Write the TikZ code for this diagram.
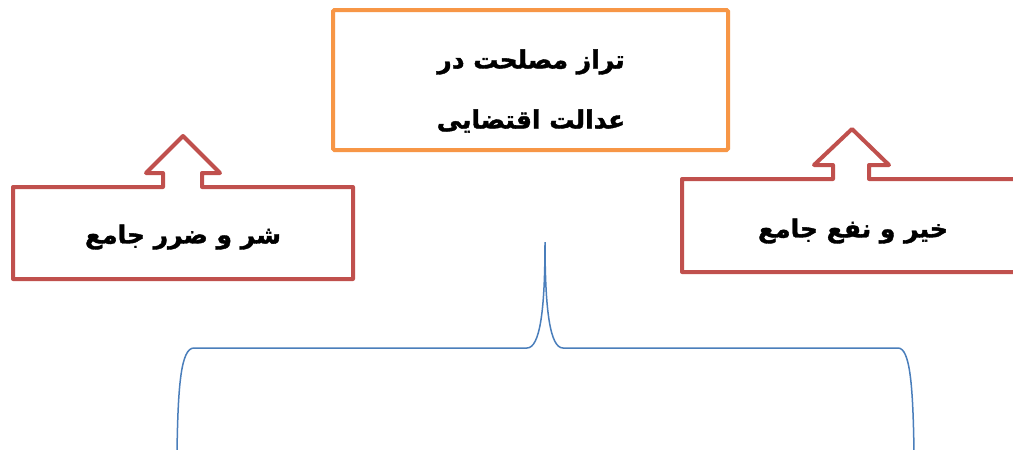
\documentclass[tikz,border=0pt]{standalone}
\usepackage{fontspec}
\TeXXeTstate=1
\newfontfamily\arabicfont[Script=Arabic, BoldFeatures={FakeBold=1.5}]{DejaVu Sans}
\definecolor{boxorange}{HTML}{F79646}
\definecolor{boxred}{HTML}{C0504D}
\definecolor{braceblue}{HTML}{4A7EBB}
\begin{document}
\begin{tikzpicture}[x=1pt,y=-1pt,
  topbox/.style={draw=boxorange, line width=4pt, rounded corners=1.5pt, minimum width=395pt, minimum height=140pt},
  toptxt/.style={align=center, inner sep=0pt, font=\arabicfont\bfseries\fontsize{25}{60}\selectfont},
  arrowbox/.style={draw=boxred, line width=4pt, line join=round},
  lbl/.style={font=\arabicfont\bfseries\fontsize{25}{30}\selectfont, inner sep=0pt},
  brace/.style={draw=braceblue, line width=1.5pt}]
\useasboundingbox (0,0) rectangle (1013,450);
\clip (0,0) rectangle (1013,450);
\fill[white] (0,0) rectangle (1013,450);
% top box
\node[topbox] (top) at (530.5,80) {};
\node[toptxt] (toptext) at (531,91) {\beginR تراز مصلحت در\endR\\\beginR عدالت اقتضایی\endR};
% left box with up arrow
\draw[arrowbox] (13,279) -- (13,187) -- (163,187) -- (163,173) -- (146,173) -- (183,136) -- (220,173) -- (202,173) -- (202,187) -- (353,187) -- (353,279) -- cycle;
\node[lbl] (left) at (183,237) {\beginR شر و ضرر جامع\endR};
% right box with up arrow
\draw[arrowbox] (682,272) -- (682,179) -- (833,179) -- (833,165) -- (814,165) -- (852,129) -- (889,165) -- (869,165) -- (869,179) -- (1024,179) -- (1024,272) -- cycle;
\node[lbl] (right) at (853,231) {\beginR خیر و نفع جامع\endR};
% brace
\coordinate (tip) at (545,242);
\coordinate (bl) at (177,452);
\coordinate (br) at (914,452);
\draw[brace] (bl) .. controls (178,385) and (181,348) .. (194,348) -- (527,348) .. controls (540,348) and (545,310) .. (tip)
  .. controls (545,310) and (550,348) .. (563,348) -- (898,348) .. controls (910,348) and (913,385) .. (br);
\end{tikzpicture}
\end{document}
